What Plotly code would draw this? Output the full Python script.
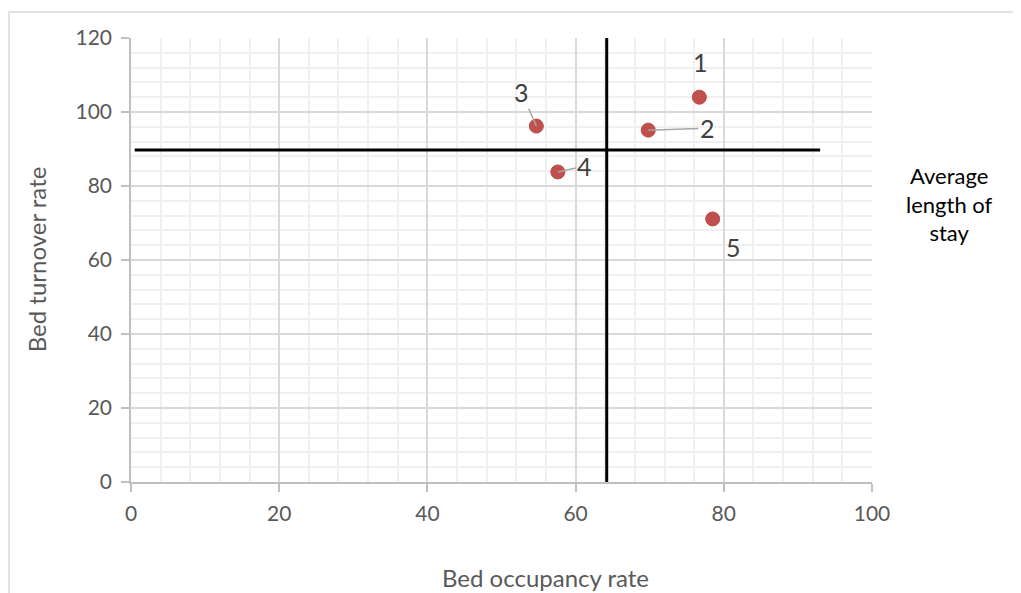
import plotly.graph_objects as go

# Data
occupancy = [76.7, 69.8, 54.7, 57.6, 78.5]
turnover = [104.0, 95.1, 96.2, 83.8, 71.1]
labels = ["1", "2", "3", "4", "5"]
# label pixel offsets (dx, dy) and whether a leader line is drawn
label_dx = [1, 59, -15, 27, 21]
label_dy = [-35, -2, -34, -6, 28]
leader = [False, True, True, True, False]

# Reference lines
vline_x = [64.2, 64.2]
vline_y = [0, 120]
hline_x = [0.5, 93]
hline_y = [89.7, 89.7]

x_ticks = [0, 20, 40, 60, 80, 100]
y_ticks = [0, 20, 40, 60, 80, 100, 120]

FONT = "Lato"
TICK_COLOR = "#595959"

fig = go.Figure()
fig.add_trace(go.Scatter(x=vline_x, y=vline_y, mode="lines",
                         line=dict(color="black", width=3), hoverinfo="skip"))
fig.add_trace(go.Scatter(x=hline_x, y=hline_y, mode="lines",
                         line=dict(color="black", width=3), hoverinfo="skip"))
fig.add_trace(go.Scatter(x=occupancy, y=turnover, mode="markers",
                         marker=dict(color="#c0504d", size=14,
                                     line=dict(color="#b84a47", width=1))))

annotations = []
for xv, yv, t, dx, dy, ld in zip(occupancy, turnover, labels, label_dx, label_dy, leader):
    if ld:
        annotations.append(dict(x=xv, y=yv, xref="x", yref="y", text=t,
                                showarrow=True, arrowhead=0, arrowwidth=1.5,
                                arrowcolor="#a6a6a6", ax=dx, ay=dy,
                                font=dict(family=FONT, size=25, color="#404040")))
    else:
        annotations.append(dict(x=xv, y=yv, xref="x", yref="y", text=t,
                                showarrow=False, xshift=dx, yshift=-dy,
                                xanchor="center", yanchor="middle",
                                font=dict(family=FONT, size=25, color="#404040")))

annotations.append(dict(x=-0.128, y=0.502, xref="paper", yref="paper",
                        xanchor="center", yanchor="middle",
                        text="Bed turnover rate", textangle=-90, showarrow=False,
                        font=dict(family=FONT, size=24, color=TICK_COLOR)))
annotations.append(dict(x=0.56, y=-0.214, xref="paper", yref="paper",
                        xanchor="center", yanchor="middle",
                        text="Bed occupancy rate", showarrow=False,
                        font=dict(family=FONT, size=24, color=TICK_COLOR)))
annotations.append(dict(x=1.105, y=0.626, xref="paper", yref="paper",
                        xanchor="center", yanchor="middle",
                        text="Average<br>length of<br>stay", showarrow=False,
                        font=dict(family=FONT, size=22, color="black")))

fig.update_layout(
    width=1013, height=585,
    margin=dict(l=123, r=149, t=30, b=111),
    paper_bgcolor="white", plot_bgcolor="white",
    showlegend=False,
    annotations=annotations,
    shapes=[dict(type="rect", xref="paper", yref="paper",
                 x0=-0.1646, x1=1.4, y0=-0.4, y1=1.0586,
                 line=dict(color="#d9d9d9", width=1.5), layer="below")],
)
fig.update_xaxes(range=[0, 100], tickvals=x_ticks, ticktext=[str(v) for v in x_ticks],
                 showgrid=True, gridcolor="#d9d9d9", gridwidth=1.5,
                 minor=dict(dtick=4, showgrid=True, gridcolor="#f0f0f0", gridwidth=1.5),
                 showline=True, linecolor="#bfbfbf", linewidth=1.5,
                 ticks="outside", ticklen=8, tickcolor="#bfbfbf", tickwidth=1.5,
                 tickfont=dict(family=FONT, size=21, color=TICK_COLOR),
                 ticklabelstandoff=4, zeroline=False)
fig.update_yaxes(range=[0, 120], tickvals=y_ticks, ticktext=[str(v) for v in y_ticks],
                 showgrid=True, gridcolor="#d9d9d9", gridwidth=1.5,
                 minor=dict(dtick=4, showgrid=True, gridcolor="#f0f0f0", gridwidth=1.5),
                 showline=True, linecolor="#bfbfbf", linewidth=1.5,
                 ticks="outside", ticklen=8, tickcolor="#bfbfbf", tickwidth=1.5,
                 tickfont=dict(family=FONT, size=21, color=TICK_COLOR),
                 ticklabelstandoff=5, zeroline=False)

fig.write_html("out.html")
